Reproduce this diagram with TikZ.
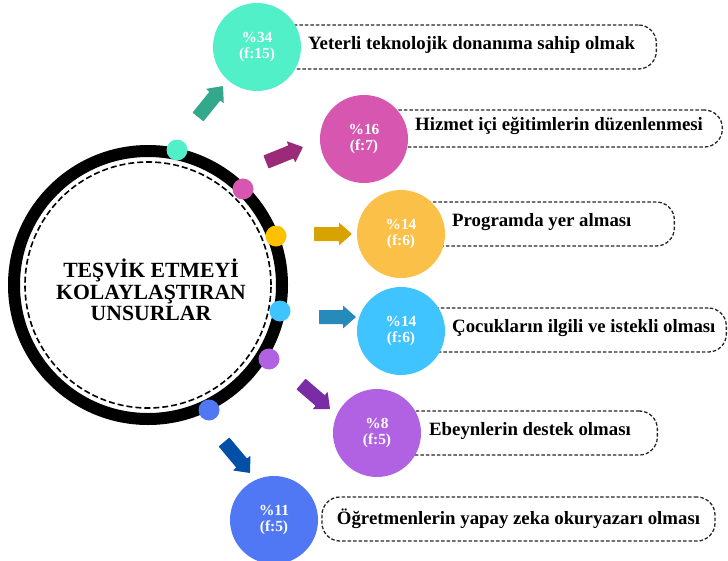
\documentclass[tikz,border=0pt]{standalone}
\usepackage{fontspec}
\setmainfont{Liberation Serif}
\usetikzlibrary{calc}
\definecolor{cTeal}{RGB}{82,240,200}
\definecolor{aTeal}{RGB}{52,168,138}
\definecolor{cPink}{RGB}{214,86,176}
\definecolor{aPink}{RGB}{155,42,120}
\definecolor{cYel}{RGB}{250,192,72}
\definecolor{dYel}{RGB}{255,192,0}
\definecolor{aYel}{RGB}{216,162,0}
\definecolor{cCyan}{RGB}{64,196,255}
\definecolor{aCyan}{RGB}{38,138,186}
\definecolor{cPurp}{RGB}{176,98,226}
\definecolor{aPurp}{RGB}{122,44,166}
\definecolor{cBlue}{RGB}{80,120,245}
\definecolor{aBlue}{RGB}{0,80,168}
\newcommand{\blkarrow}[3]{%
  \coordinate (#1hb) at ($(#2)!13pt!(#1)$);
  \fill[#3, rounded corners=0.6pt] ($(#1)!7pt!90:(#2)$) -- ($(#1hb)!7pt!90:(#2)$) -- ($(#1hb)!11.5pt!90:(#2)$) -- (#2) -- ($(#1hb)!11.5pt!-90:(#2)$) -- ($(#1hb)!7pt!-90:(#2)$) -- ($(#1)!7pt!-90:(#2)$) -- cycle;}
\tikzset{
  numc/.style={circle, minimum size=88pt, inner sep=0pt, text=white, align=center,
    font=\bfseries\fontsize{15.4}{15.5}\selectfont},
  lbox/.style={draw=black!85, dash pattern=on 3.5pt off 2pt, line width=1.3pt,
    rounded corners=18pt, inner sep=0pt},
  ltext/.style={anchor=mid west, inner sep=0pt, font=\bfseries\fontsize{18.8}{22}\selectfont},
  dotc/.style={circle, minimum size=21pt, inner sep=0pt},
}
\begin{document}
\begin{tikzpicture}[x=1pt, y=-1pt]
\useasboundingbox (0,0) rectangle (728,560);
% central circle
\coordinate (C) at (148,285);
\draw[line width=12pt] (C) circle[radius=134pt];
\draw[line width=1.6pt, dash pattern=on 6pt off 3pt] (C) circle[radius=123pt];
\node[align=center, font=\bfseries\fontsize{21.7}{21.7}\selectfont] (title) at (151,290)
  {TEŞVİK ETMEYİ\\KOLAYLAŞTIRAN\\UNSURLAR};
% dots on ring
\node[dotc, fill=cTeal] (dA) at (177,150) {};
\node[dotc, fill=cPink] (dB) at (243,189) {};
\node[dotc, fill=dYel] (dC) at (276,236) {};
\node[dotc, fill=cCyan] (dD) at (280,311) {};
\node[dotc, fill=cPurp] (dE) at (269,359) {};
\node[dotc, fill=cBlue] (dF) at (209,410) {};
% arrows
\coordinate (tA) at (198,117); \coordinate (pA) at (223,86);
\coordinate (tB) at (266,162); \coordinate (pB) at (303,147);
\coordinate (tC) at (314,234); \coordinate (pC) at (352,234);
\coordinate (tD) at (319,317); \coordinate (pD) at (356,317);
\coordinate (tE) at (301,384); \coordinate (pE) at (330,409);
\coordinate (tF) at (224,442); \coordinate (pF) at (250,473);
\blkarrow{tA}{pA}{aTeal}
\blkarrow{tB}{pB}{aPink}
\blkarrow{tC}{pC}{aYel}
\blkarrow{tD}{pD}{aCyan}
\blkarrow{tE}{pE}{aPurp}
\blkarrow{tF}{pF}{aBlue}
% label boxes
\node[lbox, minimum width=400pt, minimum height=44pt, anchor=east] (bA) at (657,47) {};
\node[lbox, minimum width=359pt, minimum height=37pt, anchor=east] (bB) at (723,128.5) {};
\node[lbox, minimum width=274pt, minimum height=44pt, anchor=east] (bC) at (675,224) {};
\node[lbox, minimum width=326pt, minimum height=44pt, anchor=east] (bD) at (727,330) {};
\node[lbox, minimum width=281pt, minimum height=44pt, anchor=east] (bE) at (658,433) {};
\node[lbox, minimum width=393pt, minimum height=44pt, font=\bfseries\fontsize{18.8}{22}\selectfont] (bF) at (518.5,519)
  {Öğretmenlerin yapay zeka okuryazarı olması};
% big coloured circles
\node[numc, fill=cTeal] (cA) at (257,47) {\%34\\(f:15)};
\node[numc, fill=cPink] (cB) at (364,139) {\%16\\(f:7)};
\node[numc, fill=cYel] (cC) at (401,234) {\%14\\(f:6)};
\node[numc, fill=cCyan] (cD) at (401,331) {\%14\\(f:6)};
\node[numc, fill=cPurp] (cE) at (377,433) {\%8\\(f:5)};
\node[numc, fill=cBlue] (cF) at (274,520) {\%11\\(f:5)};
% label texts
\node[ltext] (lA) at (308,47) {Yeterli teknolojik donanıma sahip olmak};
\node[ltext] (lB) at (415,128.5) {Hizmet içi eğitimlerin düzenlenmesi};
\node[ltext] (lC) at (452,224) {Programda yer alması};
\node[ltext] (lD) at (452,330) {Çocukların ilgili ve istekli olması};
\node[ltext] (lE) at (429,433) {Ebeynlerin destek olması};
\end{tikzpicture}
\end{document}
